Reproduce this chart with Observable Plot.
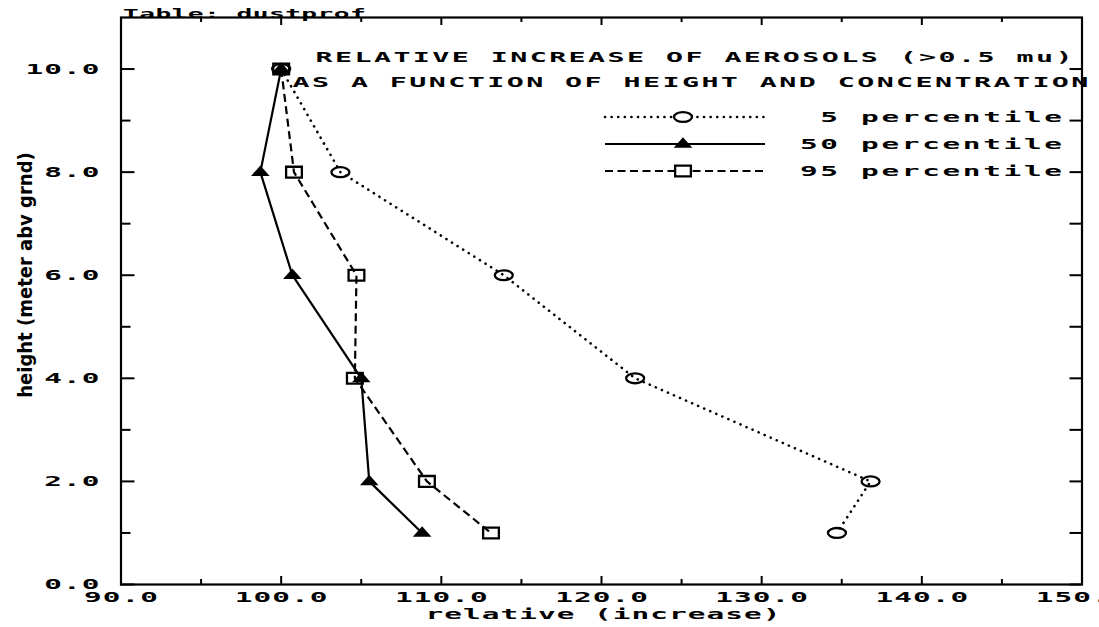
<!DOCTYPE html>
<html>
<head>
<meta charset="utf-8">
<script src="https://cdn.jsdelivr.net/npm/d3@7"></script>
<script src="https://cdn.jsdelivr.net/npm/@observablehq/plot@0.6"></script>
<style>
  html, body { margin: 0; padding: 0; background: #fff; overflow: hidden; }
  svg { display: block; }
</style>
</head>
<body>
<div id="chart"></div>
<script>
// ---- data ----
const heights = [10, 8, 6, 4, 2, 1];
const p5  = [100, 103.7, 113.9, 122.1, 136.8, 134.7];
const p50 = [100, 98.7, 100.7, 105.0, 105.5, 108.8];
const p95 = [100, 100.8, 104.7, 104.6, 109.1, 113.1];
const seriesNames = ["5 percentile", "50 percentile", "95 percentile"];
const xTicks = [90, 100, 110, 120, 130, 140, 150];
const xTickLabels = ["90.0", "100.0", "110.0", "120.0", "130.0", "140.0", "150.0"];
const xMinor = [95, 105, 115, 125, 135, 145];
const yTicks = [0, 2, 4, 6, 8, 10];
const yTickLabels = ["0.0", "2.0", "4.0", "6.0", "8.0", "10.0"];
const yMinor = [1, 3, 5, 7, 9];
const titleLines = ["RELATIVE INCREASE OF AEROSOLS (>0.5 mu)", "AS A FUNCTION OF HEIGHT AND CONCENTRATION"];
const tableLabel = "Table: dustprof";
const xLabel = "relative (increase)";
const yLabel = "height (meter abv grnd)";

// ---- build ----
const PF = "DejaVu Sans Mono";
const SX = 2.1;           // horizontal stretch of the plotter-like font
const LS_TICK = 0.5;
const LS_LEG = 1.27;
const W = 1099, H = 627;
const M = {top: 17, right: 17.5, bottom: 43, left: 120.5};
const innerW = W - M.left - M.right, innerH = H - M.top - M.bottom;

const ellipseSym = { draw(ctx, size) { const r = Math.sqrt(size / Math.PI); const rx = r * 2, ry = r * 1.1, k = 0.5523;
  ctx.moveTo(rx, 0); ctx.bezierCurveTo(rx, ry * k, rx * k, ry, 0, ry); ctx.bezierCurveTo(-rx * k, ry, -rx, ry * k, -rx, 0);
  ctx.bezierCurveTo(-rx, -ry * k, -rx * k, -ry, 0, -ry); ctx.bezierCurveTo(rx * k, -ry, rx, -ry * k, rx, 0); ctx.closePath(); } };
const boxSym = { draw(ctx, size) { const r = Math.sqrt(size / Math.PI); ctx.rect(-r * 1.75, -r * 1.2, r * 3.5, r * 2.4); } };
const triSym = { draw(ctx, size) { const r = Math.sqrt(size / Math.PI); ctx.moveTo(0, -r * 1.1); ctx.lineTo(r * 1.5, r * 0.6); ctx.lineTo(-r * 1.5, r * 0.6); ctx.closePath(); } };

const styles = [
  {name: seriesNames[0], values: p5,  dash: "0.1,6.5", width: 2.6, cap: "round", sym: ellipseSym, fill: "none"},
  {name: seriesNames[1], values: p50, dash: null,      width: 2.2, cap: "butt",  sym: triSym,     fill: "black"},
  {name: seriesNames[2], values: p95, dash: "8,4.5",   width: 2.2, cap: "butt",  sym: boxSym,     fill: "none"}
];

const seriesMarks = styles.flatMap(s => {
  const rows = heights.map((h, i) => ({series: s.name, x: s.values[i], y: h}));
  return [
    Plot.line(rows, {x: "x", y: "y", stroke: "black", strokeWidth: s.width, strokeDasharray: s.dash, strokeLinecap: s.cap}),
    Plot.dot(rows, {x: "x", y: "y", symbol: s.sym, r: 4.5, stroke: "black", strokeWidth: 2.3, fill: s.fill})
  ];
});

function legend() {
  const g = d3.create("svg:g").attr("aria-label", "legend");
  const rowsY = [117, 144, 171];
  styles.forEach((s, i) => {
    const y = rowsY[i];
    g.append("line").attr("x1", 605).attr("x2", 765).attr("y1", y).attr("y2", y)
      .attr("stroke", "black").attr("stroke-width", s.width)
      .attr("stroke-dasharray", s.dash).attr("stroke-linecap", s.cap);
    g.append("path").attr("transform", `translate(683,${y})`)
      .attr("d", d3.symbol(s.sym, 4.5 * 4.5 * Math.PI)())
      .attr("stroke", "black").attr("stroke-width", 2.3).attr("fill", s.fill === "none" ? "white" : s.fill);
    g.append("text").attr("transform", `translate(${1062 + LS_LEG * SX},${y})`).attr("dy", "0.35em")
      .attr("text-anchor", "end").attr("font-family", PF).attr("font-weight", "bold").attr("font-size", 14)
      .text(s.name);
  });
  return g.node();
}

const chart = Plot.plot({
  width: W, height: H,
  marginTop: M.top, marginRight: M.right, marginBottom: M.bottom, marginLeft: M.left,
  x: {domain: [90, 150]},
  y: {domain: [0, 11]},
  style: {background: "white", color: "black"},
  marks: [
    Plot.axisX(xTicks, {anchor: "bottom", tickSize: 0, tickPadding: 8, dx: LS_TICK * SX / 2,
      tickFormat: d => xTickLabels[xTicks.indexOf(d)], fontFamily: PF, fontSize: 14, fontWeight: "bold", label: null}),
    Plot.axisY(yTicks, {anchor: "left", tickSize: 0, tickPadding: 20.5,
      tickFormat: d => yTickLabels[yTicks.indexOf(d)], fontFamily: PF, fontSize: 14, fontWeight: "bold", label: null}),
    Plot.tickX(xTicks, {x: d => d, insetTop: innerH - 8, stroke: "black", strokeWidth: 2}),
    Plot.tickX(xMinor, {x: d => d, insetTop: innerH - 5, stroke: "black", strokeWidth: 2}),
    Plot.tickX(xTicks, {x: d => d, insetBottom: innerH - 8, stroke: "black", strokeWidth: 2}),
    Plot.tickX(xMinor, {x: d => d, insetBottom: innerH - 5, stroke: "black", strokeWidth: 2}),
    Plot.tickY(yTicks, {y: d => d, insetRight: innerW - 14, stroke: "black", strokeWidth: 2}),
    Plot.tickY(yMinor, {y: d => d, insetRight: innerW - 10, stroke: "black", strokeWidth: 2}),
    Plot.tickY(yTicks.concat(yMinor), {y: d => d, insetLeft: innerW - 12, stroke: "black", strokeWidth: 2}),
    Plot.frame({stroke: "black", strokeWidth: 2.2}),
    ...seriesMarks,
    Plot.text([titleLines[0]], {text: d => d, frameAnchor: "top-left", textAnchor: "start", dx: 194.5, dy: 35,
      fontFamily: PF, fontWeight: "bold", fontSize: 13.5}),
    Plot.text([titleLines[1]], {text: d => d, frameAnchor: "top-left", textAnchor: "start", dx: 171.5, dy: 60,
      fontFamily: PF, fontWeight: "bold", fontSize: 13.5}),
    Plot.text([tableLabel], {text: d => d, frameAnchor: "top-left", textAnchor: "start", dx: 2, dy: -8,
      fontFamily: PF, fontWeight: "bold", fontSize: 12.5}),
    Plot.text([xLabel], {text: d => d, frameAnchor: "bottom", dx: 2, dy: 34,
      fontFamily: PF, fontWeight: "bold", fontSize: 14}),
    Plot.text([yLabel], {text: d => d, frameAnchor: "left", textAnchor: "middle", rotate: -90, dx: -95, dy: -26,
      fontFamily: "Liberation Sans Narrow, DejaVu Sans Condensed, sans-serif", fontWeight: "bold", fontSize: 20}),
    legend
  ]
});

// plotter-style lettering: widen glyphs and space them
const spacingFor = new Map([
  [titleLines[0], 1.15], [titleLines[1], 1.15], [tableLabel, 0.2], [xLabel, 0.5],
  [seriesNames[0], LS_LEG], [seriesNames[1], LS_LEG], [seriesNames[2], LS_LEG]
]);
d3.select(chart).selectAll("text").each(function() {
  const t = this.textContent;
  if (t === yLabel) return;
  const ls = spacingFor.has(t) ? spacingFor.get(t) : LS_TICK;
  this.style.letterSpacing = ls + "px";
  let tr = this.getAttribute("transform");
  if (!tr) {
    const x = +this.getAttribute("x") || 0, y = +this.getAttribute("y") || 0;
    this.removeAttribute("x"); this.removeAttribute("y");
    tr = `translate(${x},${y})`;
  }
  this.setAttribute("transform", `${tr} scale(${SX},1)`);
});
document.getElementById("chart").appendChild(chart);
</script>
</body>
</html>
